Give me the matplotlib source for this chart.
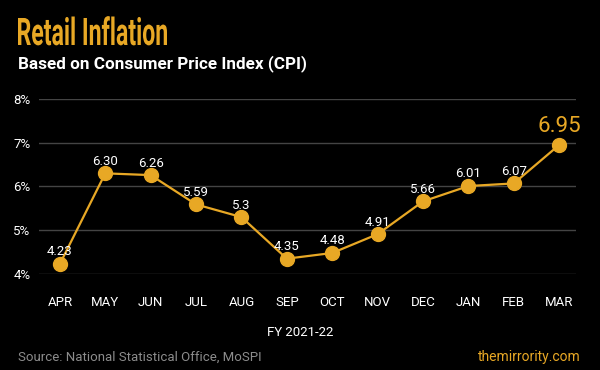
import matplotlib
matplotlib.use('Agg')
import matplotlib.pyplot as plt
from matplotlib.textpath import TextPath
from matplotlib.patches import PathPatch
from matplotlib.font_manager import FontProperties
from matplotlib.transforms import Affine2D

# Data
months = ['APR', 'MAY', 'JUN', 'JUL', 'AUG', 'SEP', 'OCT', 'NOV', 'DEC', 'JAN', 'FEB', 'MAR']
cpi = [4.23, 6.30, 6.26, 5.59, 5.3, 4.35, 4.48, 4.91, 5.66, 6.01, 6.07, 6.95]
labels = ['4.23', '6.30', '6.26', '5.59', '5.3', '4.35', '4.48', '4.91', '5.66', '6.01', '6.07', '6.95']
yticks = [4, 5, 6, 7, 8]

ORANGE = '#E8A825'
BG = '#000000'
H = 370

fig = plt.figure(figsize=(6, 3.7), dpi=100, facecolor=BG)
ax = fig.add_axes([0.065, 0.2595, 0.895, 0.473], facecolor=BG)

x = list(range(len(months)))
ax.plot(x, cpi, color=ORANGE, linewidth=1.6, marker='o', markersize=10, clip_on=False, zorder=3)

# Data labels
for i, (v, s) in enumerate(zip(cpi, labels)):
    if i == len(cpi) - 1:
        ax.annotate(s, (i, v), xytext=(0, 6), textcoords='offset points', ha='center', va='bottom',
                    color=ORANGE, fontsize=16, family='Roboto')
    else:
        ax.annotate(s, (i, v), xytext=(0, 4), textcoords='offset points', ha='center', va='bottom',
                    color='white', fontsize=9.5, family='Roboto')

# Axes
ax.set_xlim(-0.46, 11.37)
ax.set_ylim(4, 8)
ax.set_yticks(yticks)
ax.set_yticklabels(['%d%%' % t for t in yticks])
ax.set_xticks(x)
ax.set_xticklabels(months)
ax.grid(axis='y', color='#444444', linewidth=1)
ax.set_axisbelow(True)
for sp in ax.spines.values():
    sp.set_visible(False)
ax.tick_params(length=0, colors='white', labelsize=9.5)
ax.tick_params(axis='x', pad=16)
ax.tick_params(axis='y', pad=6)
for t in ax.get_xticklabels() + ax.get_yticklabels():
    t.set_family('Roboto')

# Condensed title: Roboto bold path squeezed horizontally
tp = TextPath((0, 0), 'Retail Inflation', size=38, prop=FontProperties(family='Roboto', weight='bold'))
ext = tp.get_extents()
sx = 149.0 / ext.width
tr = Affine2D().translate(-ext.x0, 0).scale(sx, 1).translate(18, H - 45)
fig.add_artist(PathPatch(tp, transform=tr, facecolor=ORANGE, edgecolor='none'))

fig.text(18/600, 1 - 68/H, 'Based on Consumer Price Index (CPI)', color='white', fontsize=12.3,
         fontweight='bold', family='Roboto', ha='left', va='baseline')
fig.text(0.5, 1 - 332/H, 'FY 2021-22', color='white', fontsize=9.5, family='Roboto',
         ha='center', va='center')
fig.text(18/600, 1 - 357/H, 'Source: National Statistical Office, MoSPI', color='#8c8c8c',
         fontsize=9.5, family='Roboto', ha='left', va='center')
fig.text(581/600, 1 - 357/H, 'themirrority.com', color=ORANGE, fontsize=10, family='Roboto',
         ha='right', va='center')

fig.savefig('out.png', dpi=100, facecolor=BG)
